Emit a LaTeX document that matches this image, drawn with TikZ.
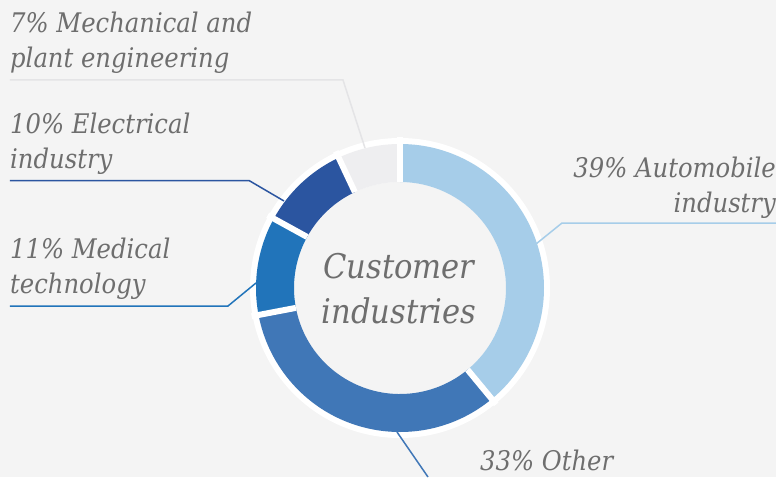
\documentclass[tikz,border=0pt]{standalone}
\usepackage{fontspec}
\setmainfont{DejaVu Serif Condensed}
\usetikzlibrary{calc, positioning}
\definecolor{bg}{HTML}{F4F4F4}
\definecolor{autocol}{HTML}{A6CDE9}
\definecolor{othercol}{HTML}{4077B7}
\definecolor{medcol}{HTML}{2174BA}
\definecolor{eleccol}{HTML}{2B55A0}
\definecolor{mechcol}{HTML}{EEEEF0}
\definecolor{mechline}{HTML}{E4E4E6}
\definecolor{labelgrey}{HTML}{6E6E6E}
\tikzset{
  lbl/.style={font=\fontsize{27}{35}\selectfont\itshape, text=labelgrey, inner sep=0pt},
  leader/.style={line width=1.5pt},
  gap/.style={white, line width=6pt}
}
% one piece of the ring, from angle #1 to angle #2
\newcommand{\ringpart}[3]{
  \fill[#3] (#1:144pt) arc[start angle=#1, end angle=#2, radius=144pt]
    -- (#2:106pt) arc[start angle=#2, end angle=#1, radius=106pt] -- cycle;
}

\begin{document}
\begin{tikzpicture}[x=1pt, y=1pt]
      \useasboundingbox[fill=bg] (-400, -189) rectangle (376, 288);

      \fill[white] (0, 0) circle (150pt);
      \fill[bg] (0, 0) circle (106pt);
      \ringpart{90}{-50.4}{autocol}
      \ringpart{-50.4}{-169.2}{othercol}
      \ringpart{-169.2}{-208.8}{medcol}
      \ringpart{151.2}{115.2}{eleccol}
      \ringpart{115.2}{90}{mechcol}
      \foreach \a in {90, -50.4, -169.2, 151.2, 115.2}
        \draw[gap] (\a:106pt) -- (\a:151pt);

      % multi-line nodes: base is the last line
      \node[font=\fontsize{34}{45}\selectfont\itshape, text=labelgrey, align=center, anchor=base] (title) at (-1, -35) {Customer\\industries};

      \node[lbl, align=right, anchor=base east] (autolbl) at (376, 76) {39\% Automobile\\industry};
      \node[lbl, anchor=base west] (otherlbl) at (80, -182) {33\% Other};
      \node[lbl, align=left, anchor=base west] (medlbl) at (-390, -5) {11\% Medical\\technology};
      \node[lbl, align=left, anchor=base west] (eleclbl) at (-390, 120) {10\% Electrical\\industry};
      \node[lbl, align=left, anchor=base west] (mechlbl) at (-390, 220) {7\% Mechanical and\\plant engineering};

      \coordinate (autostart) at (136, 44);
      \coordinate (autobend) at (162, 65);
      \coordinate (otherstart) at (-3, -144);
      \coordinate (otherend) at (28, -189);
      \coordinate (medstart) at (-144, 5);
      \coordinate (medbend) at (-172, -18);
      \coordinate (elecstart) at (-116, 87);
      \coordinate (elecbend) at (-151, 107.5);
      \coordinate (mechstart) at (-35, 140);
      \coordinate (mechbend) at (-57, 208);

      \draw[leader, autocol] (autostart) -- (autobend) -- (autobend -| autolbl.east);
      \draw[leader, othercol] (otherstart) -- (otherend);
      \draw[leader, medcol] (medstart) -- (medbend) -- (medbend -| medlbl.west);
      \draw[leader, eleccol] (elecstart) -- (elecbend) -- (elecbend -| eleclbl.west);
      \draw[leader, mechline] (mechstart) -- (mechbend) -- (mechbend -| mechlbl.west);
  \end{tikzpicture}
\end{document}
